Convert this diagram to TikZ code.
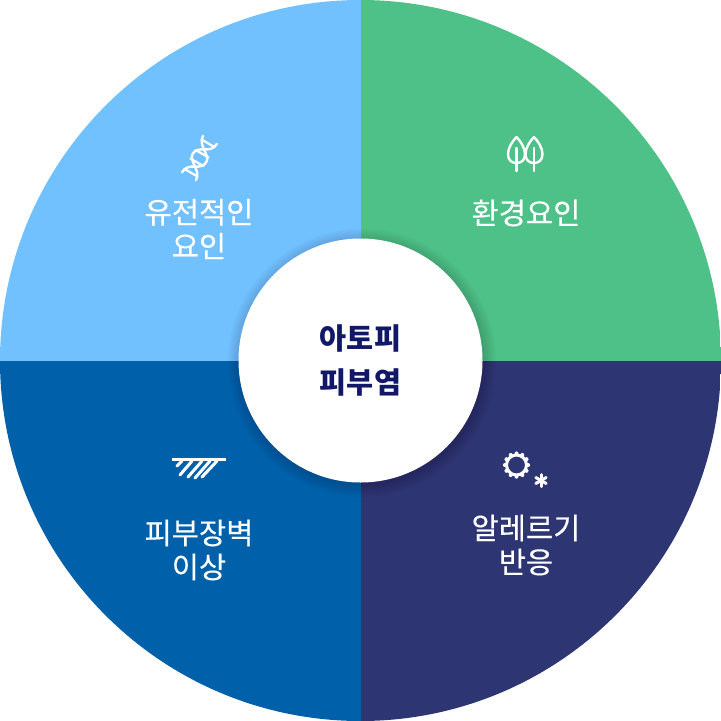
\documentclass[tikz,border=0pt]{standalone}
\usepackage{fontspec}
\setmainfont{Noto Sans CJK KR}
\newfontfamily\labelfont[FakeBold=0.25]{Noto Sans CJK KR}
\definecolor{geneBlue}{RGB}{113, 192, 255}
\definecolor{envGreen}{RGB}{77, 193, 135}
\definecolor{barrierBlue}{RGB}{0, 97, 170}
\definecolor{allergyNavy}{RGB}{46, 53, 115}
\definecolor{titleNavy}{RGB}{17, 24, 104}
\tikzset{
  factorlabel/.style={text=white,align=center,font=\labelfont\fontsize{29.6}{34}\selectfont,inner sep=0pt},
  titlelabel/.style={text=titleNavy,align=center,font=\fontsize{29.4}{44}\selectfont\bfseries,inner sep=0pt},
  iconline/.style={draw=white,line width=2.4pt,fill=none,line cap=round,line join=round},
}
\begin{document}
\begin{tikzpicture}[x=1pt,y=-1pt]
  \useasboundingbox (0,0) rectangle (721,721);
  % Quarters
  \begin{scope}
    \clip (360.5,360.5) circle[radius=360.5];
    \fill[geneBlue] (0,0) rectangle (361,361);
    \fill[envGreen] (361,0) rectangle (721,361);
    \fill[allergyNavy] (361,361) rectangle (721,721);
    \fill[barrierBlue] (0,361) rectangle (361,721);
  \end{scope}
  % Soft shadow of the centre
  \foreach \r in {134,132,...,122}
    \fill[black,opacity=0.025] (362,363) circle[radius=\r];
  \node[circle,fill=white,minimum size=244pt,inner sep=0pt] (centre) at (360.5,360.5) {};
  \node[titlelabel] (title) at (360.5,360.5) {아토피\\피부염};
  % Labels
  \node[factorlabel] (gene) at (199,229) {유전적인\\요인};
  \node[factorlabel] (env) at (526,213) {환경요인};
  \node[factorlabel] (barrier) at (199,550) {피부장벽\\이상};
  \node[factorlabel] (allergy) at (526,545) {알레르기\\반응};
  % DNA icon
  \begin{scope}[shift={(199.5,158)},rotate=-30]
    \draw[iconline] (-8,-21) .. controls (-8,-10) and (8,-8) .. (8,0)
      .. controls (8,5) and (4,8) .. (0,10) .. controls (-4,12) and (-8,15) .. (-8,21);
    \draw[iconline] (8,-21) .. controls (8,-15) and (4,-12) .. (0,-10)
      .. controls (-4,-8) and (-8,-5) .. (-8,0)
      .. controls (-8,8) and (8,10) .. (8,21);
    \foreach \y in {-17,-5,5,17}
      \draw[iconline,line width=2.2pt] (-7.5,\y) -- (7.5,\y);
  \end{scope}
  % Tree icon
  \foreach \x in {516.5,534} {
    \draw[iconline] (\x,137) .. controls (\x+4,141) and (\x+8.5,148) .. (\x+8.5,154)
      .. controls (\x+8.5,160) and (\x+5,163) .. (\x,163)
      .. controls (\x-5,163) and (\x-8.5,160) .. (\x-8.5,154)
      .. controls (\x-8.5,148) and (\x-4,141) .. (\x,137);
    \draw[iconline] (\x,148) -- (\x,171);
  }
  % Skin icon
  \draw[iconline,line width=3pt,line cap=butt] (172,459.5) -- (226,459.5);
  \draw[iconline,line width=3pt] (182,461) -- (177,466);
  \foreach \xa/\xb/\yb in {192/180/475,202/188/477,210/195/478,217/202/477}
    \draw[iconline,line width=3pt] (\xa,461) -- (\xb,\yb);
  % Allergen icon
  \draw[iconline,line width=3pt] (516.5,465) circle[radius=10];
  \foreach \a in {0,30,...,330}
    \fill[white] (516.5,465) ++(\a:11.6) circle[radius=2];
  \foreach \a in {90,150,210,270,330,30}
    \draw[iconline,line width=3pt] (541,480.5) -- ++(\a:6);
\end{tikzpicture}
\end{document}
